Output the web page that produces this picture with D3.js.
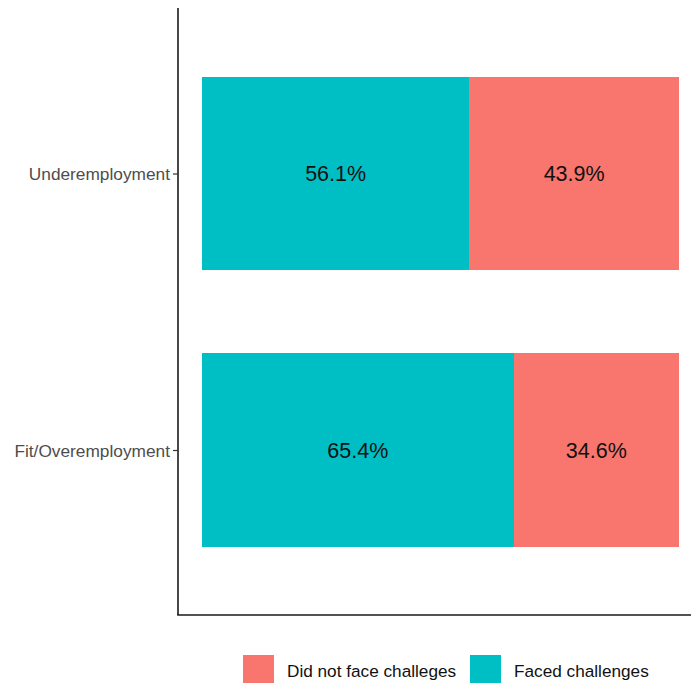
<!DOCTYPE html>
<html><head><meta charset="utf-8">
<script src="https://cdn.jsdelivr.net/npm/d3@7"></script>
<style>body{margin:0;background:#fff}svg{display:block}text{font-family:"Liberation Sans",Arial,sans-serif}</style>
</head><body>
<svg id="c" width="691" height="683"></svg>
<script>
const categories = ["Underemployment", "Fit/Overemployment"];
const faced = [0.561, 0.654];
const notFaced = [0.439, 0.346];
const seriesNames = ["Did not face challeges", "Faced challenges"];
const colors = ["#F8766D", "#00BFC4"];

const svg = d3.select("#c");
const x = d3.scaleLinear().domain([-0.05, 1.05]).range([178, 702.7]);
const y = d3.scalePoint().domain(categories).range([173.5, 450]);
const step = 276.5, bh = step * 0.7;

const rows = categories.map((c, i) => ({c, faced: faced[i], notFaced: notFaced[i]}));

// bars
rows.forEach(r => {
  svg.append("rect").attr("x", x(0)).attr("width", x(r.faced) - x(0))
    .attr("y", y(r.c) - bh/2).attr("height", bh).attr("fill", colors[1]).attr("shape-rendering", "crispEdges");
  svg.append("rect").attr("x", x(r.faced)).attr("width", x(1) - x(r.faced))
    .attr("y", y(r.c) - bh/2).attr("height", bh).attr("fill", colors[0]).attr("shape-rendering", "crispEdges");
  svg.append("text").attr("x", (x(0) + x(r.faced))/2).attr("y", y(r.c) + 7.5)
    .attr("text-anchor", "middle").attr("font-size", 21.5).attr("fill", "#111")
    .text((r.faced*100).toFixed(1) + "%");
  svg.append("text").attr("x", (x(r.faced) + x(1))/2).attr("y", y(r.c) + 7.5)
    .attr("text-anchor", "middle").attr("font-size", 21.5).attr("fill", "#111")
    .text((r.notFaced*100).toFixed(1) + "%");
});

// axes lines
svg.append("line").attr("x1", 178).attr("x2", 178).attr("y1", 8).attr("y2", 615)
  .attr("stroke", "#1a1a1a").attr("stroke-width", 1.6);
svg.append("line").attr("x1", 177.2).attr("x2", 691).attr("y1", 615).attr("y2", 615)
  .attr("stroke", "#1a1a1a").attr("stroke-width", 1.6);

const yAxis = d3.axisLeft(y).tickSize(5).tickPadding(3);
const g = svg.append("g").attr("transform", "translate(178,0)").call(yAxis);
g.select(".domain").remove();
g.selectAll(".tick line").attr("stroke", "#333").attr("stroke-width", 1.2);
g.selectAll(".tick text").attr("font-size", 17.3).attr("fill", "#4d4d4d").attr("dy", "0.36em")
  .attr("font-family", "Liberation Sans, Arial, sans-serif");

// legend
const leg = [{name: seriesNames[0], col: colors[0], x: 243}, {name: seriesNames[1], col: colors[1], x: 470}];
leg.forEach(l => {
  svg.append("rect").attr("x", l.x).attr("y", 655).attr("width", 31).attr("height", 31).attr("fill", l.col);
  svg.append("text").attr("x", l.x + 44).attr("y", 676.5).attr("font-size", 17.2).attr("fill", "#111").text(l.name);
});
</script>
</body></html>
